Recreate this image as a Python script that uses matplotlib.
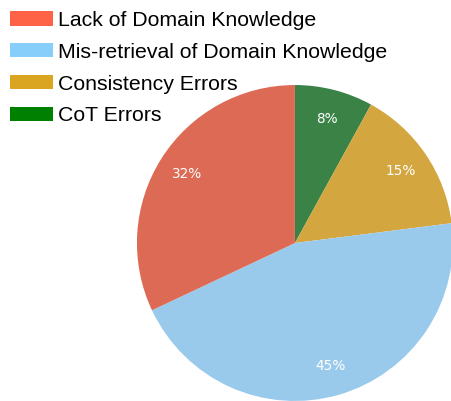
import matplotlib.pyplot as plt
from matplotlib.patches import Patch

# error categories, in legend order
categories = ['Lack of Domain Knowledge', 'Mis-retrieval of Domain Knowledge',
              'Consistency Errors', 'CoT Errors']
shares = [32, 45, 15, 8]
legend_colors = ['tomato', 'lightskyblue', 'goldenrod', 'green']
wedge_colors = ['#DD6A55', '#9ACAEB', '#D4A63F', '#3A8246']

fig = plt.figure(figsize=(4.52, 4.01), dpi=100)
ax = fig.add_axes([0.303, 0.0, 0.699, 0.788])

# pie drawn clockwise from the top, starting with CoT Errors
order = [3, 2, 1, 0]
ax.pie([shares[i] for i in order],
       colors=[wedge_colors[i] for i in order],
       startangle=90, counterclock=False,
       autopct='%1.0f%%', pctdistance=0.81,
       textprops={'color': 'white', 'fontsize': 9.8, 'family': 'DejaVu Sans'},
       wedgeprops={'linewidth': 0})
ax.set_xlim(-1, 1)
ax.set_ylim(-1, 1)
ax.set_aspect('equal')

handles = [Patch(facecolor=c, edgecolor='none') for c in legend_colors]
fig.legend(handles, categories, loc='upper left',
           bbox_to_anchor=(10 / 452, 1 - 11 / 401),
           frameon=False, borderaxespad=0, borderpad=0,
           handlelength=2.0, handleheight=0.66, handletextpad=0.28,
           labelspacing=0.6,
           prop={'family': 'Liberation Sans', 'size': 15.3})

fig.savefig('out.png', dpi=100)
